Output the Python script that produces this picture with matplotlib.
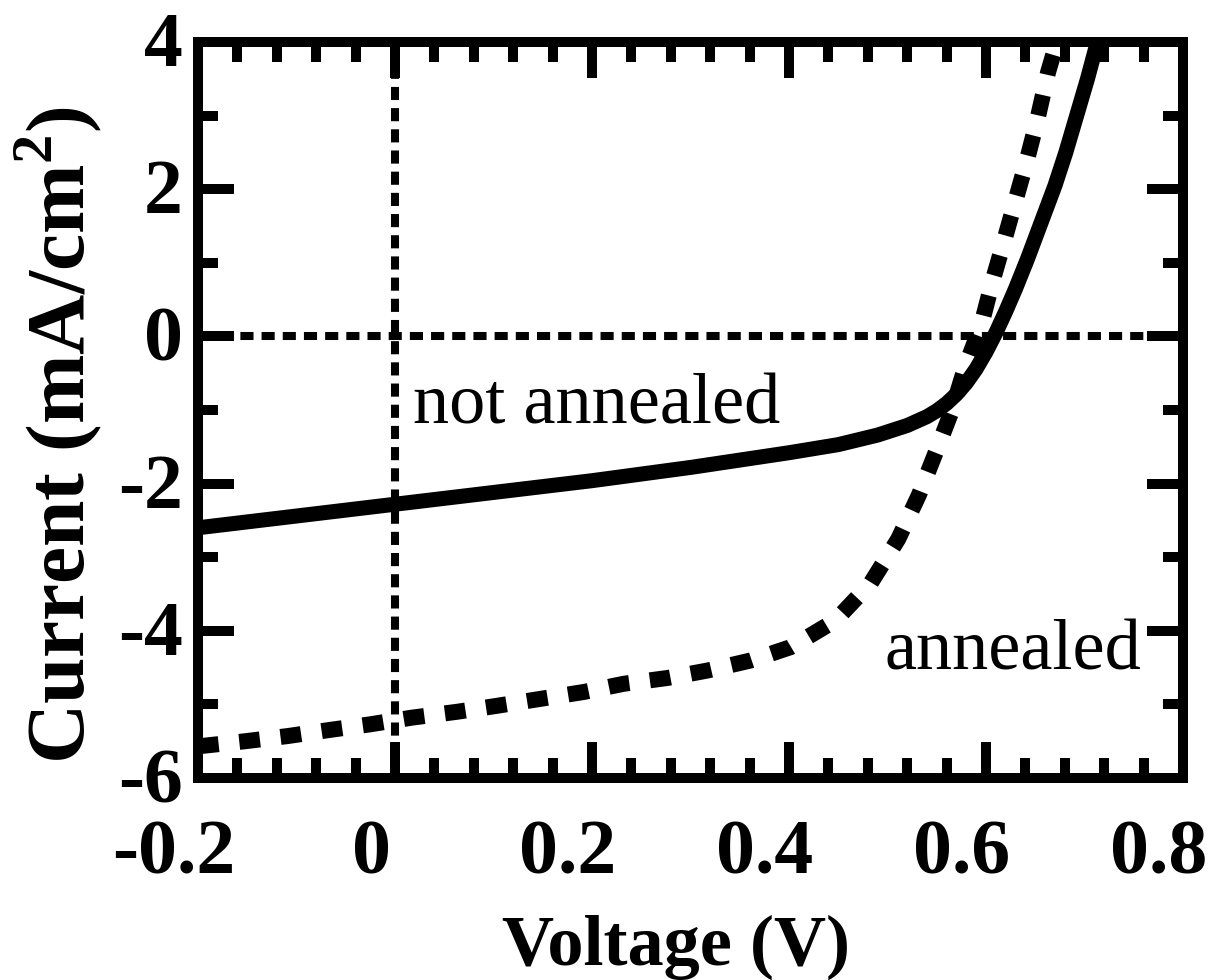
import numpy as np
import matplotlib
matplotlib.use("Agg")
import matplotlib.pyplot as plt
import matplotlib.transforms as mtrans
from matplotlib.ticker import MultipleLocator

# not annealed (solid curve)
v_not = [-0.2, -0.1, 0.0, 0.1, 0.2, 0.3, 0.4, 0.45, 0.49, 0.52, 0.54, 0.55, 0.56, 0.57, 0.58, 0.59, 0.60, 0.61,
         0.62, 0.63, 0.642, 0.656, 0.670, 0.681, 0.692, 0.703, 0.713]
j_not = [-2.60, -2.44, -2.28, -2.12, -1.96, -1.78, -1.58, -1.47, -1.34, -1.21, -1.09, -1.01, -0.91, -0.785, -0.63, -0.44, -0.21, 0.05,
         0.34, 0.65, 1.05, 1.55, 2.05, 2.50, 3.00, 3.50, 4.0]

# annealed (dotted curve)
v_ann = [-0.2, -0.152, -0.109, -0.068, -0.025, 0.017, 0.063, 0.103, 0.145, 0.192, 0.232, 0.277, 0.317, 0.362,
         0.402, 0.447, 0.483, 0.511, 0.532, 0.550, 0.565, 0.579, 0.595, 0.607, 0.618, 0.630, 0.642, 0.652, 0.663, 0.672]
j_ann = [-5.57, -5.50, -5.43, -5.35, -5.27, -5.18, -5.10, -5.02, -4.93, -4.83, -4.72, -4.64, -4.54, -4.40,
         -4.22, -3.86, -3.35, -2.75, -2.15, -1.54, -1.02, -0.41, 0.15, 0.77, 1.28, 1.85, 2.42, 2.94, 3.59, 4.0]

x_ticks = [-0.2, 0.0, 0.2, 0.4, 0.6, 0.8]
x_labels = ["-0.2", "0", "0.2", "0.4", "0.6", "0.8"]
y_ticks = [-6, -4, -2, 0, 2, 4]
y_labels = ["-6", "-4", "-2", "0", "2", "4"]

plt.rcParams["font.family"] = "Liberation Serif"
plt.rcParams["font.weight"] = "bold"
plt.rcParams["axes.labelweight"] = "bold"
plt.rcParams["axes.unicode_minus"] = False
plt.rcParams["mathtext.fontset"] = "custom"
plt.rcParams["mathtext.bf"] = "Liberation Serif:bold"
plt.rcParams["mathtext.rm"] = "Liberation Serif:bold"

fig = plt.figure(figsize=(12.11, 9.8), dpi=100)
ax = fig.add_axes([0.1635, 0.2061, 0.8134, 0.7510])

# zero lines
ax.axhline(0, color="k", lw=5.8, linestyle=(0, (1.63, 1.0)), zorder=1)
ax.axvline(0, color="k", lw=5.8, linestyle=(0, (1.63, 1.0)), zorder=1)

ax.plot(v_not, j_not, color="k", lw=10.8, solid_capstyle="butt", solid_joinstyle="round")
ax.plot(v_ann, j_ann, color="k", lw=11.5, linestyle=(0, (1.3, 1.3)), dash_capstyle="butt")

ax.text(0.018, -1.18, "not annealed", fontsize=52, fontweight="normal", ha="left", va="baseline")
ax.text(0.497, -4.53, "annealed", fontsize=52, fontweight="normal", ha="left", va="baseline")

ax.set_xlim(-0.2, 0.8)
ax.set_ylim(-6, 4)
ax.set_xticks(x_ticks)
ax.set_xticklabels(x_labels)
ax.set_yticks(y_ticks)
ax.set_yticklabels(y_labels)
ax.xaxis.set_minor_locator(MultipleLocator(0.04))
ax.yaxis.set_minor_locator(MultipleLocator(1))

ax.tick_params(which="both", direction="in", top=True, right=True, width=7.2, colors="k")
ax.tick_params(which="major", length=26)
ax.tick_params(which="minor", length=14.4)
ax.tick_params(axis="x", labelsize=56, pad=30)
ax.tick_params(axis="y", labelsize=56, pad=11)

for s in ax.spines.values():
    s.set_linewidth(7.2)

# tick labels sit a little left (x) / up (y) of their ticks in the original
for lab in ax.get_xticklabels():
    lab.set_transform(lab.get_transform() + mtrans.ScaledTranslation(-0.24, 0, fig.dpi_scale_trans))
for lab in ax.get_yticklabels():
    lab.set_transform(lab.get_transform() + mtrans.ScaledTranslation(0, 0.03, fig.dpi_scale_trans))

ax.set_xlabel("Voltage (V)", fontsize=52)
ax.set_ylabel(r"Current (mA/cm$^{\mathbf{2}}$)", fontsize=60)
ax.xaxis.set_label_coords(0.485, -0.185)
ax.yaxis.set_label_coords(-0.095, 0.466)

fig.savefig("out.png", dpi=100)
